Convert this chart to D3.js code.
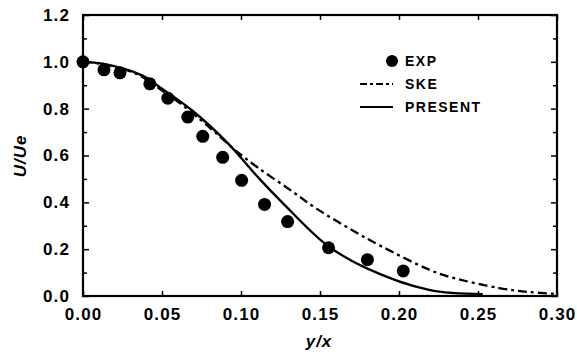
<!DOCTYPE html>
<html>
<head>
<meta charset="utf-8">
<script src="https://cdn.jsdelivr.net/npm/d3@7"></script>
<style>
  body { margin: 0; background: #fff; }
  svg text { font-family: "Liberation Sans", Arial, sans-serif; font-weight: bold; fill: #000; }
</style>
</head>
<body>
<svg id="chart" width="577" height="356"></svg>
<script>
// experimental points
const expX = [0, 0.0133, 0.0234, 0.0423, 0.0537, 0.0663, 0.0758, 0.0884, 0.1004, 0.1149, 0.1295, 0.1554, 0.180, 0.2027];
const expY = [1.0, 0.966, 0.953, 0.906, 0.845, 0.764, 0.682, 0.592, 0.494, 0.391, 0.318, 0.206, 0.155, 0.107];

// SKE model (dash-dot)
const skeX = [0, 0.0126, 0.034, 0.0486, 0.0613, 0.0739, 0.0834, 0.0947, 0.1099, 0.1307, 0.1478, 0.1686, 0.1895, 0.2192, 0.2318, 0.2634, 0.2823, 0.30];
const skeY = [1.0, 0.99, 0.948, 0.884, 0.824, 0.755, 0.700, 0.632, 0.552, 0.455, 0.373, 0.288, 0.210, 0.112, 0.082, 0.034, 0.017, 0.009];

// present model (solid)
const preX = [0, 0.0126, 0.038, 0.0486, 0.0695, 0.091, 0.112, 0.126, 0.154, 0.179, 0.219, 0.253];
const preY = [1.0, 0.992, 0.94, 0.892, 0.79, 0.657, 0.498, 0.4, 0.219, 0.12, 0.026, 0.008];

const xTicks = [0, 0.05, 0.10, 0.15, 0.20, 0.25, 0.30];
const yTicks = [0, 0.2, 0.4, 0.6, 0.8, 1.0, 1.2];
const yMinor = [0.1, 0.3, 0.5, 0.7, 0.9, 1.1];

const svg = d3.select('#chart');
const margin = { top: 15, right: 20, bottom: 60, left: 83 };
const width = 577 - margin.left - margin.right;
const height = 356 - margin.top - margin.bottom;

const g = svg.append('g').attr('transform', `translate(${margin.left},${margin.top})`);

const x = d3.scaleLinear().domain([0, 0.30]).range([0, width]);
const y = d3.scaleLinear().domain([0, 1.2]).range([height, 0]);

// bottom axis with labels
g.append('g')
  .attr('transform', `translate(0,${height})`)
  .call(d3.axisBottom(x).tickValues(xTicks).tickFormat(d3.format('.2f')).tickSize(-5).tickPadding(12))
  .call(a => a.selectAll('text').attr('font-size', 17).attr('letter-spacing', 1.1));

// top axis ticks only
g.append('g')
  .call(d3.axisTop(x).tickValues(xTicks).tickFormat('').tickSize(-5));

// left axis
g.append('g')
  .call(d3.axisLeft(y).tickValues(yTicks).tickFormat(d3.format('.1f')).tickSize(-6).tickPadding(13))
  .call(a => a.selectAll('text').attr('font-size', 17).attr('letter-spacing', 1.1));
g.append('g')
  .call(d3.axisLeft(y).tickValues(yMinor).tickFormat('').tickSize(-4));

// right axis ticks
g.append('g')
  .attr('transform', `translate(${width},0)`)
  .call(d3.axisRight(y).tickValues(yTicks).tickFormat('').tickSize(-6));
g.append('g')
  .attr('transform', `translate(${width},0)`)
  .call(d3.axisRight(y).tickValues(yMinor).tickFormat('').tickSize(-4));

g.selectAll('.domain').remove();
g.selectAll('.tick line').attr('stroke', '#000').attr('stroke-width', 1.5);

// frame
g.append('rect')
  .attr('width', width).attr('height', height)
  .attr('fill', 'none').attr('stroke', '#000').attr('stroke-width', 2.2);

const line = d3.line().x(d => x(d[0])).y(d => y(d[1])).curve(d3.curveCatmullRom.alpha(0.5));

g.append('path')
  .datum(d3.zip(skeX, skeY))
  .attr('d', line)
  .attr('fill', 'none').attr('stroke', '#000').attr('stroke-width', 2.3)
  .attr('stroke-dasharray', '9,4,3,4');

g.append('path')
  .datum(d3.zip(preX, preY))
  .attr('d', line)
  .attr('fill', 'none').attr('stroke', '#000').attr('stroke-width', 2.3);

g.selectAll('circle.exp')
  .data(d3.zip(expX, expY))
  .enter().append('circle')
  .attr('class', 'exp')
  .attr('cx', d => x(d[0]))
  .attr('cy', d => y(d[1]))
  .attr('r', 6.5)
  .attr('fill', '#000');

// legend
const leg = svg.append('g').attr('transform', 'translate(360,61)');
leg.append('circle').attr('cx', 32).attr('cy', 0).attr('r', 6).attr('fill', '#000');
leg.append('text').attr('x', 45).attr('y', 5).attr('font-size', 14).attr('letter-spacing', 1.5).text('EXP');
leg.append('line').attr('x1', 0).attr('x2', 33).attr('y1', 23).attr('y2', 23)
  .attr('stroke', '#000').attr('stroke-width', 2.2).attr('stroke-dasharray', '7,3,3,3');
leg.append('text').attr('x', 45).attr('y', 28).attr('font-size', 14).attr('letter-spacing', 1.5).text('SKE');
leg.append('line').attr('x1', 0).attr('x2', 33).attr('y1', 46).attr('y2', 46)
  .attr('stroke', '#000').attr('stroke-width', 2.2);
leg.append('text').attr('x', 45).attr('y', 51).attr('font-size', 14).attr('letter-spacing', 1.5).text('PRESENT');

// axis titles
svg.append('text')
  .attr('x', margin.left + x(0.15) - 1).attr('y', 347)
  .attr('text-anchor', 'middle').attr('font-size', 17).attr('font-style', 'italic')
  .attr('letter-spacing', 1)
  .text('y/x');
svg.append('text')
  .attr('transform', 'translate(26,156) rotate(-90)')
  .attr('text-anchor', 'middle').attr('font-size', 17).attr('font-style', 'italic')
  .attr('letter-spacing', 1)
  .text('U/Ue');
</script>
</body>
</html>
